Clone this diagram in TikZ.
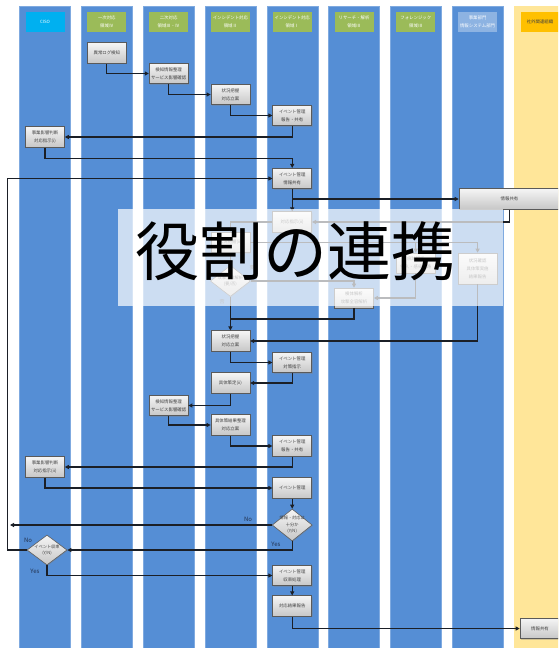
\documentclass[tikz,border=0pt]{standalone}
\usepackage{fontspec}
\setmainfont{Noto Sans CJK JP}
\usetikzlibrary{arrows.meta,shapes.geometric,shadows,calc}
\definecolor{lanec}{HTML}{558ED5}
\definecolor{laneedge}{HTML}{7FAAE0}
\definecolor{yellowc}{HTML}{FFE699}
\definecolor{orangec}{HTML}{FFC000}
\definecolor{greenc}{HTML}{9BBB59}
\definecolor{cisoc}{HTML}{00B0F0}
\definecolor{lightbluec}{HTML}{8DB3E2}
\definecolor{boxline}{HTML}{5A5A5A}
\definecolor{boxtext}{HTML}{404040}
\definecolor{linec}{HTML}{1B1F26}
\definecolor{ync}{HTML}{22324F}
\tikzset{
  lanebox/.style={fill=lanec, draw=laneedge, line width=0.4pt},
  hdr/.style={minimum width=39pt, minimum height=20pt, inner sep=0pt, align=center,
    text=white, font=\fontsize{4.4}{8}\selectfont},
  procbox/.style={draw=boxline, line width=0.6pt, top color=white!96!black, bottom color=black!22,
    minimum width=39pt, minimum height=20.5pt, inner sep=0pt, align=center, text=boxtext,
    font=\fontsize{4.4}{8}\selectfont,
    drop shadow={shadow xshift=0.8pt, shadow yshift=-0.8pt, opacity=0.35}},
  dia/.style={diamond, draw=boxline, line width=0.6pt, top color=white!96!black, bottom color=black!22,
    minimum width=40pt, minimum height=31pt, inner sep=0pt,
    drop shadow={shadow xshift=0.8pt, shadow yshift=-0.8pt, opacity=0.35}},
  diatext/.style={align=center, text=boxtext, font=\fontsize{4.2}{6.5}\selectfont, inner sep=0pt},
  ln/.style={draw=linec, line width=1.1pt},
  arr/.style={ln, -{Triangle[length=4pt,width=4pt]}},
  yn/.style={text=ync, font=\fontsize{6}{6}\selectfont, inner sep=0pt},
}
\begin{document}
\begin{tikzpicture}[x=1pt,y=-1pt]
\useasboundingbox (0,0) rectangle (558,648);
\clip (0,0) rectangle (558,648);
\fill[white] (0,0) rectangle (558,648);
% lanes
\foreach \i in {0,...,7} {
  \path[lanebox] ({19.5+61.8*\i},6) rectangle ++(51,660);
}
\fill[yellowc] (513.9,6) rectangle (580,660);
% headers
\node[hdr, fill=cisoc] (h1) at (45,22) {CISO};
\node[hdr, fill=greenc] (h2) at (106.8,22) {一次対応\\領域Ⅳ};
\node[hdr, fill=greenc] (h3) at (168.6,22) {二次対応\\領域Ⅲ・Ⅳ};
\node[hdr, fill=greenc] (h4) at (230.4,22) {インシデント対応\\領域Ⅱ};
\node[hdr, fill=greenc] (h5) at (292.2,22) {インシデント対応\\領域Ⅰ};
\node[hdr, fill=greenc] (h6) at (354,22) {リサーチ・解析\\領域Ⅲ};
\node[hdr, fill=greenc] (h7) at (415.8,22) {フォレンジック\\領域Ⅲ};
\node[hdr, fill=lightbluec] (h8) at (477.6,22) {事業部門\\情報システム部門};
\node[hdr, fill=orangec, text=boxtext] (h9) at (540,22) {社外関連組織};
% process nodes
\node[procbox] (n1) at (106.8,53) {異常ログ検知};
\node[procbox] (n2) at (168.6,73.5) {検知情報整理\\サービス影響確認};
\node[procbox] (n3) at (230.4,94.5) {状況把握\\対応立案};
\node[procbox] (n4) at (292.2,115.5) {イベント管理\\報告・共有};
\node[procbox] (n5) at (45,137) {事業影響判断\\対応指示(i)};
\node[procbox] (n6) at (292.2,178.5) {イベント管理\\情報共有};
\node[procbox, minimum width=101pt] (n7) at (509.5,199) {情報共有};
\node[procbox] (n8) at (292.2,222) {対応指示(ii)};
\node[procbox] (n9) at (230.4,242.5) {状況把握(ii)};
\node[dia] (d1) at (230.4,281) {};
\node[diatext] (d1t) at (d1) {攻撃全容解析\\(要/否)};
\node[procbox, minimum height=20pt] (n11) at (354,298) {検体解析\\攻撃全容解析};
\node[procbox, minimum height=20pt] (n12) at (415.8,263) {痕跡解析\\侵入・感染経路};
\node[procbox, minimum height=31pt] (n13) at (477.6,268.5) {状況確認\\具体策実施\\結果報告};
\node[procbox] (n14) at (230.4,341) {状況把握\\対応立案};
\node[procbox] (n15) at (292.2,362.5) {イベント管理\\対策指示};
\node[procbox] (n16) at (230.4,383) {具体策定(ii)};
\node[procbox] (n17) at (168.6,405.5) {検知情報整理\\サービス影響確認};
\node[procbox] (n18) at (230.4,425) {具体策結果整理\\対応立案};
\node[procbox] (n19) at (292.2,446) {イベント管理\\報告・共有};
\node[procbox] (n20) at (45,467) {事業影響判断\\対応指示(ii)};
\node[procbox] (n21) at (292.2,488) {イベント管理};
\node[dia, minimum height=32pt] (d2) at (292.2,525) {};
\node[diatext] (d2t) at (d2) {情報・対応は\\十分か\\(Y/N)};
\node[dia, minimum height=30pt] (d3) at (47,550) {};
\node[diatext] (d3t) at (d3) {イベント収束\\(Y/N)};
\node[procbox] (n24) at (292.2,575.5) {イベント管理\\収束処理};
\node[procbox] (n25) at (292.2,606) {対応結果報告};
\node[procbox, minimum width=40pt] (n26) at (540,628.5) {情報共有};
% connectors
\draw[arr] (n1.south) |- (n2.west);
\draw[arr] (n2.south) |- (n3.west);
\draw[arr] (n3.south) |- (n4.west);
\draw[arr] (n4.south) |- (n5.east);
\draw[arr] (n5.south) -- ++(0,11) -| (n6.north);
\draw[arr] (d3.west) -- ++(-19,0) |- (n6.west);
\draw[arr] (n6.south) |- (n7.west);
\draw[arr] (n6.south) -- (n8.north);
\draw[arr] ($(n7.south west)+(51,0)$) |- (n8.east);
\draw[arr] (n8.west) -| (n9.north);
\draw[arr] (n9.east) -| (n13.north);
\draw[arr] (n9.east) -| (n12.north);
\draw[arr] (n9.south) -- (d1.north);
\draw[arr] (d1.east) -| (n11.north);
\draw[arr] (n12.south) |- (n11.east);
\draw[arr] (d1.south) -- (n14.north);
\coordinate (j1) at (230.4,319);
\draw[ln] (n11.south) |- (j1);
\draw[arr] (n13.south) |- (n14.east);
\node[text=boxtext, font=\fontsize{5}{5}\selectfont] (lyo) at (252,268) {要};
\node[text=boxtext, font=\fontsize{5}{5}\selectfont] (lhi) at (222,302) {否};
% overlay
\fill[white, opacity=0.7] (118,209) rectangle (503,306);
\draw[arr] (n14.south) |- (n15.west);
\draw[arr] (n15.south) |- (n16.east);
\draw[arr] (n16.south) |- (n17.east);
\draw[arr] (n17.south) |- (n18.west);
\draw[arr] (n18.south) |- (n19.west);
\draw[arr] (n19.south) |- (n20.east);
\draw[arr] (n20.south) |- (n21.west);
\draw[arr] (n21.south) -- (d2.north);
\coordinate (noend) at (10,525);
\draw[arr] (d2.west) -- (noend);
\draw[arr] (d2.south) |- (d3.east);
\draw[arr] (d3.south) |- (n24.west);
\draw[arr] (n24.south) -- (n25.north);
\draw[arr] (n25.south) |- (n26.west);
\node[yn] (lno1) at (248,519) {No};
\node[yn] (lyes1) at (276,544) {Yes};
\node[yn] (lno2) at (28,540) {No};
\node[yn] (lyes2) at (35,571) {Yes};
% title
\node[font=\fontsize{64}{64}\selectfont, text=black, inner sep=0pt] (title) at (295,251) {役割の連携};
\end{tikzpicture}
\end{document}
